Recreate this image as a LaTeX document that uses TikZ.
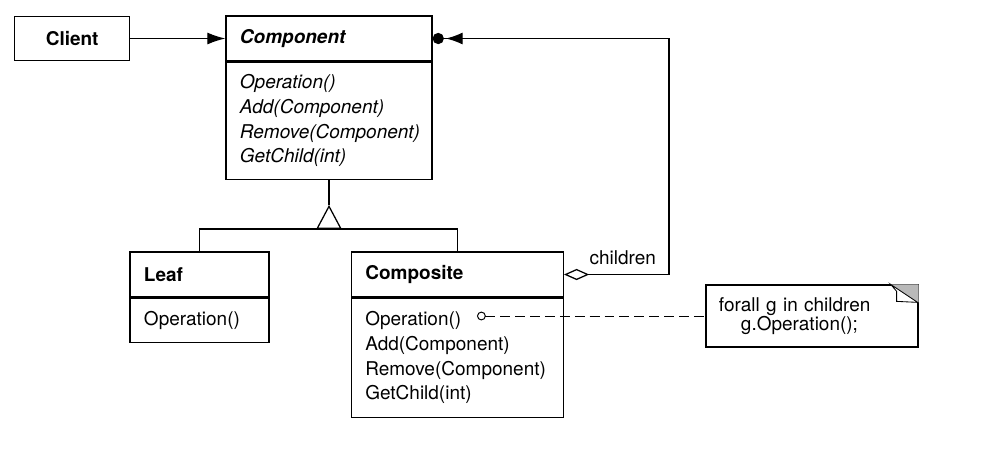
\documentclass[tikz,border=0pt]{standalone}
\usepackage{fontspec}
\setmainfont{TeX Gyre Heros}
\usetikzlibrary{arrows.meta,positioning}
\newcommand{\umlfont}{\fontsize{13.5pt}{17.6pt}\selectfont}
\tikzset{
  box/.style={draw, line width=0.9pt, inner sep=0pt},
  clshead/.style={box, minimum height=1.125cm, inner xsep=0.35cm, text width=#1, align=left, font=\umlfont\bfseries},
  clsbody/.style={box, inner xsep=0.35cm, text width=#1, align=left},
  notebox/.style={box, minimum width=5.3cm, minimum height=1.55cm, inner xsep=0.325cm, text width=4.65cm, align=left, font=\fontsize{13.5pt}{12.5pt}\selectfont},
  assoc/.style={line width=0.9pt},
  dep/.style={line width=0.7pt, dash pattern=on 7pt off 3.6pt}
}

\begin{document}
\begin{tikzpicture}[x=0.025cm, y=-0.025cm, node distance=0pt, font=\umlfont]
    \useasboundingbox (0,0) rectangle (993,450);

    \node[clshead=4.45cm, font=\umlfont\bfseries\itshape] (comphead) at (329,38.5) {Component};
    \node[clsbody=4.45cm, minimum height=2.925cm, font=\umlfont\itshape, below=of comphead] (compbody) {Operation()\\ Add(Component)\\ Remove(Component)\\ GetChild(int)};
    \node[box, minimum width=2.875cm, minimum height=1.1cm, font=\umlfont\bfseries, left=2.375cm of comphead] (client) {Client};

    \node[clshead=2.775cm] (leafhead) at (199.5,274.5) {Leaf};
    \node[clsbody=2.775cm, minimum height=1.1cm, below=of leafhead] (leafbody) {Operation()};
    \node[clshead=4.6cm, right=2.025cm of leafhead] (cmpsthead) {Composite};
    \node[clsbody=4.6cm, minimum height=2.975cm, below=of cmpsthead] (cmpstbody) {Operation()\\ Add(Component)\\ Remove(Component)\\ GetChild(int)};

    \node[notebox] (note) at (812,316) {forall g in children\\ \hspace*{0.55cm}g.Operation();};
    \fill[gray!55] ([xshift=-0.7cm]note.north east) -- (note.north east) -- ([yshift=-0.47cm]note.north east) -- cycle;
    \draw[line width=0.6pt, fill=white] ([xshift=-0.7cm]note.north east) -- ([xshift=-0.55cm,yshift=-0.175cm]note.north east) -- ([xshift=-0.55cm,yshift=-0.425cm]note.north east) -- ([xshift=-0.025cm,yshift=-0.45cm]note.north east) -- cycle;

    \draw[assoc, -{Latex[length=4.5mm,width=3mm]}] (client) -- (comphead);

    % children aggregation
    \coordinate (aggturn) at (669,38.5);
    \draw[assoc, {Diamond[open,length=6.3mm,width=2.8mm]}-{Latex[length=4.2mm,width=3mm,sep=0.5mm]Circle[length=2.8mm]}] (cmpsthead.east) -| node[pos=0.28, above, yshift=3pt] {children} (aggturn) -- (comphead.east);

    % generalization
    \coordinate[below=0.625cm of compbody] (genapex);
    \coordinate[below=0.6cm of genapex] (genbase);
    \draw[assoc, -{Triangle[open,length=6mm,width=6.3mm]}] (genbase) -- (genapex);
    \draw[assoc] (compbody) -- (genapex);
    \draw[assoc] (leafhead) |- (genbase) -| (cmpsthead);

    \coordinate (opdot) at (477,316);
    \draw[dep, {Circle[open,length=2.2mm]}-] (opdot) -- (note);
\end{tikzpicture}
\end{document}
